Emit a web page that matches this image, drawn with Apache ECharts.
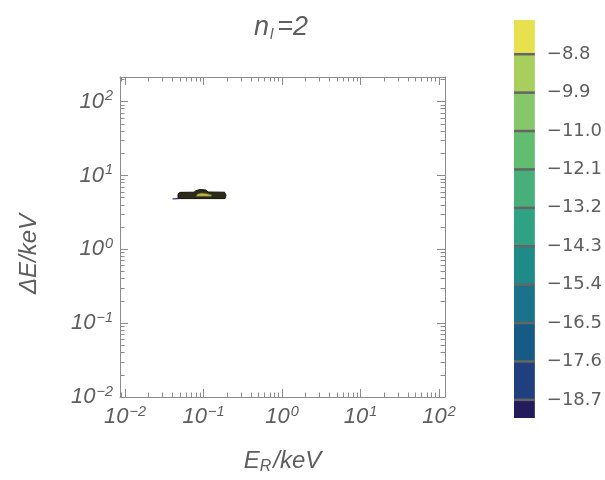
<!DOCTYPE html>
<html>
<head>
<meta charset="utf-8">
<style>
  html, body { margin: 0; padding: 0; background: #fff; }
  #chart { width: 605px; height: 480px; }
</style>
<script src="https://cdn.jsdelivr.net/npm/echarts@6.0.0/dist/echarts.min.js"></script>
</head>
<body>
<div id="chart"></div>
<script>
// decade ticks on both log axes (keV) and their exponents
const decadeTicks = [0.01, 0.1, 1, 10, 100]
const decadeExponents = ['−2', '−1', '0', '1', '2']

// contour levels shown on the colour bar, top to bottom
const levelValues = [-8.8, -9.9, -11.0, -12.1, -13.2, -14.3, -15.4, -16.5, -17.6, -18.7]
const levelColors = ['#e8e14f', '#a8ce5e', '#86c769', '#63bd71', '#47b07a', '#2fa283',
  '#1f8b88', '#1a738a', '#165b86', '#1f3f7f', '#241b5c']

// contour outlines, [E_R, ΔE] in keV
const outerContour = [[0.0473, 4.86], [0.188, 4.86], [0.1935, 5.41], [0.185, 5.93], [0.114, 5.97],
  [0.1076, 6.35], [0.090, 6.45], [0.080, 6.21], [0.0757, 5.93], [0.050, 5.90], [0.0473, 5.58]]
const innerContour = [[0.0802, 5.20], [0.1246, 5.20], [0.1283, 5.45], [0.1076, 5.72], [0.0929, 5.79], [0.0827, 5.58]]
const lowContour = [[0.0403, 4.83], [0.0473, 4.86]]

// plot range in log10 units
const xLog = [-2.064, 2.076]
const yLog = [-2, 2.333]
const cbRange = [-19.22, -7.82]

const font = 'Liberation Sans'
const grey = '#5e5e5e'
const frame = '#8c8c8c'

const log = v => Math.log10(v)
const majors = decadeTicks.map(log)
const minorsIn = range => {
  const out = []
  for (let d = -3; d <= 2; d++) {
    for (let k = 2; k <= 9; k++) {
      const v = d + Math.log10(k)
      if (v > range[0] && v < range[1]) out.push(v)
    }
  }
  return out
}

const powerLabel = v => {
  const i = majors.findIndex(m => Math.abs(m - v) < 1e-6)
  return '{b|10}{s|' + decadeExponents[i] + '}'
}
const powerRich = {
  b: { fontSize: 22, fontStyle: 'italic', fontFamily: font, color: grey, lineHeight: 26 },
  s: { fontSize: 14.5, fontStyle: 'italic', fontFamily: font, color: grey, lineHeight: 13, verticalAlign: 'top', padding: [0, 0, 0, 1] }
}

const makeAxis = (range, pos, ticks, len, withLine, withLabels, extra) => Object.assign({
  type: 'value',
  min: range[0],
  max: range[1],
  position: pos,
  gridIndex: 0,
  axisLine: { show: withLine, onZero: false, lineStyle: { color: frame, width: 1 } },
  axisTick: { show: true, inside: true, length: len, customValues: ticks, lineStyle: { color: frame } },
  axisLabel: withLabels
    ? { show: true, customValues: majors, formatter: powerLabel, rich: powerRich, margin: 7 }
    : { show: false },
  splitLine: { show: false }
}, extra || {})

const polygonSeries = (points, style) => {
  const data = points.map(p => [log(p[0]), log(p[1])])
  return {
    type: 'custom',
    xAxisIndex: 0,
    yAxisIndex: 0,
    clip: true,
    data: data,
    renderItem: (params, api) => {
      if (params.dataIndex !== 0) return
      return { type: 'polygon', shape: { points: data.map(d => api.coord(d)) }, style: style }
    }
  }
}

const polylineSeries = (points, style) => {
  const data = points.map(p => [log(p[0]), log(p[1])])
  return {
    type: 'custom',
    xAxisIndex: 0,
    yAxisIndex: 0,
    data: data,
    renderItem: (params, api) => {
      if (params.dataIndex !== 0) return
      return { type: 'polyline', shape: { points: data.map(d => api.coord(d)) }, style: style }
    }
  }
}

// colour bar segments [low, high, colour index]
const bounds = [cbRange[1]].concat(levelValues, [cbRange[0]])
const segments = levelColors.map((c, i) => [0, bounds[i + 1], bounds[i], i])

const chart = echarts.init(document.getElementById('chart'))
chart.setOption({
  animation: false,
  backgroundColor: '#fff',
  title: {
    text: '{a|n}{b|l}{a|=2}',
    left: 249,
    top: 7,
    textStyle: {
      rich: {
        a: { fontSize: 27, fontStyle: 'italic', fontWeight: 'normal', fontFamily: font, color: grey, lineHeight: 30 },
        b: { fontSize: 15, fontStyle: 'italic', fontWeight: 'normal', fontFamily: font, color: grey, lineHeight: 14, verticalAlign: 'bottom', padding: [0, 4, 0, 1] }
      }
    }
  },
  grid: [
    { left: 120, right: 160, top: 77, bottom: 78 },
    { left: 514, width: 28, top: 20, height: 398 }
  ],
  xAxis: [
    makeAxis(xLog, 'bottom', majors, 8, true, true, {
      name: '{a|E}{b|R}{a|/keV}',
      nameLocation: 'middle',
      nameGap: 50,
      nameTextStyle: {
        rich: {
          a: { fontSize: 24, fontStyle: 'italic', fontFamily: font, color: grey, lineHeight: 28 },
          b: { fontSize: 16, fontStyle: 'italic', fontFamily: font, color: grey, lineHeight: 14, verticalAlign: 'bottom', padding: [0, 2, 0, 0] }
        }
      }
    }),
    makeAxis(xLog, 'bottom', minorsIn(xLog), 4.5, false, false),
    makeAxis(xLog, 'top', majors, 8, true, false),
    makeAxis(xLog, 'top', minorsIn(xLog), 4.5, false, false),
    { type: 'value', gridIndex: 1, min: 0, max: 1, show: false }
  ],
  yAxis: [
    makeAxis(yLog, 'left', majors, 8, true, true, {
      name: 'ΔE/keV',
      nameLocation: 'middle',
      nameGap: 79,
      nameTextStyle: { fontSize: 24, fontStyle: 'italic', fontFamily: font, color: grey, padding: [0, 34, 0, 0] }
    }),
    makeAxis(yLog, 'left', minorsIn(yLog), 4.5, false, false),
    makeAxis(yLog, 'right', majors, 8, true, false),
    makeAxis(yLog, 'right', minorsIn(yLog), 4.5, false, false),
    {
      type: 'value',
      gridIndex: 1,
      position: 'right',
      min: cbRange[0],
      max: cbRange[1],
      axisLine: { show: false },
      axisTick: { show: true, inside: false, length: 10, customValues: levelValues, lineStyle: { color: '#a8a8a8' } },
      axisLabel: {
        show: true,
        customValues: levelValues,
        margin: 12,
        fontSize: 18,
        fontFamily: 'DejaVu Sans',
        color: grey,
        formatter: v => '−' + Math.abs(v).toFixed(1)
      },
      splitLine: { show: false }
    }
  ],
  series: [
    polygonSeries(outerContour, { fill: '#2b2a1b', stroke: '#131309', lineWidth: 1 }),
    polygonSeries(innerContour, { fill: '#b9b84a', stroke: '#55541f', lineWidth: 0.8 }),
    polylineSeries(lowContour, { stroke: '#2c2f86', lineWidth: 1.2, fill: null }),
    {
      type: 'custom',
      xAxisIndex: 4,
      yAxisIndex: 4,
      data: segments,
      renderItem: (params, api) => {
        const lo = api.coord([0, api.value(1)])
        const hi = api.coord([1, api.value(2)])
        const idx = api.value(3)
        const children = [{
          type: 'rect',
          shape: { x: lo[0], y: hi[1], width: hi[0] - lo[0], height: lo[1] - hi[1] },
          style: { fill: levelColors[idx] }
        }]
        if (idx > 0) {
          children.push({
            type: 'line',
            shape: { x1: lo[0], y1: hi[1], x2: hi[0], y2: hi[1] },
            style: { stroke: '#646664', lineWidth: 2.5 }
          })
        }
        return { type: 'group', children: children }
      }
    }
  ]
})
</script>
</body>
</html>
